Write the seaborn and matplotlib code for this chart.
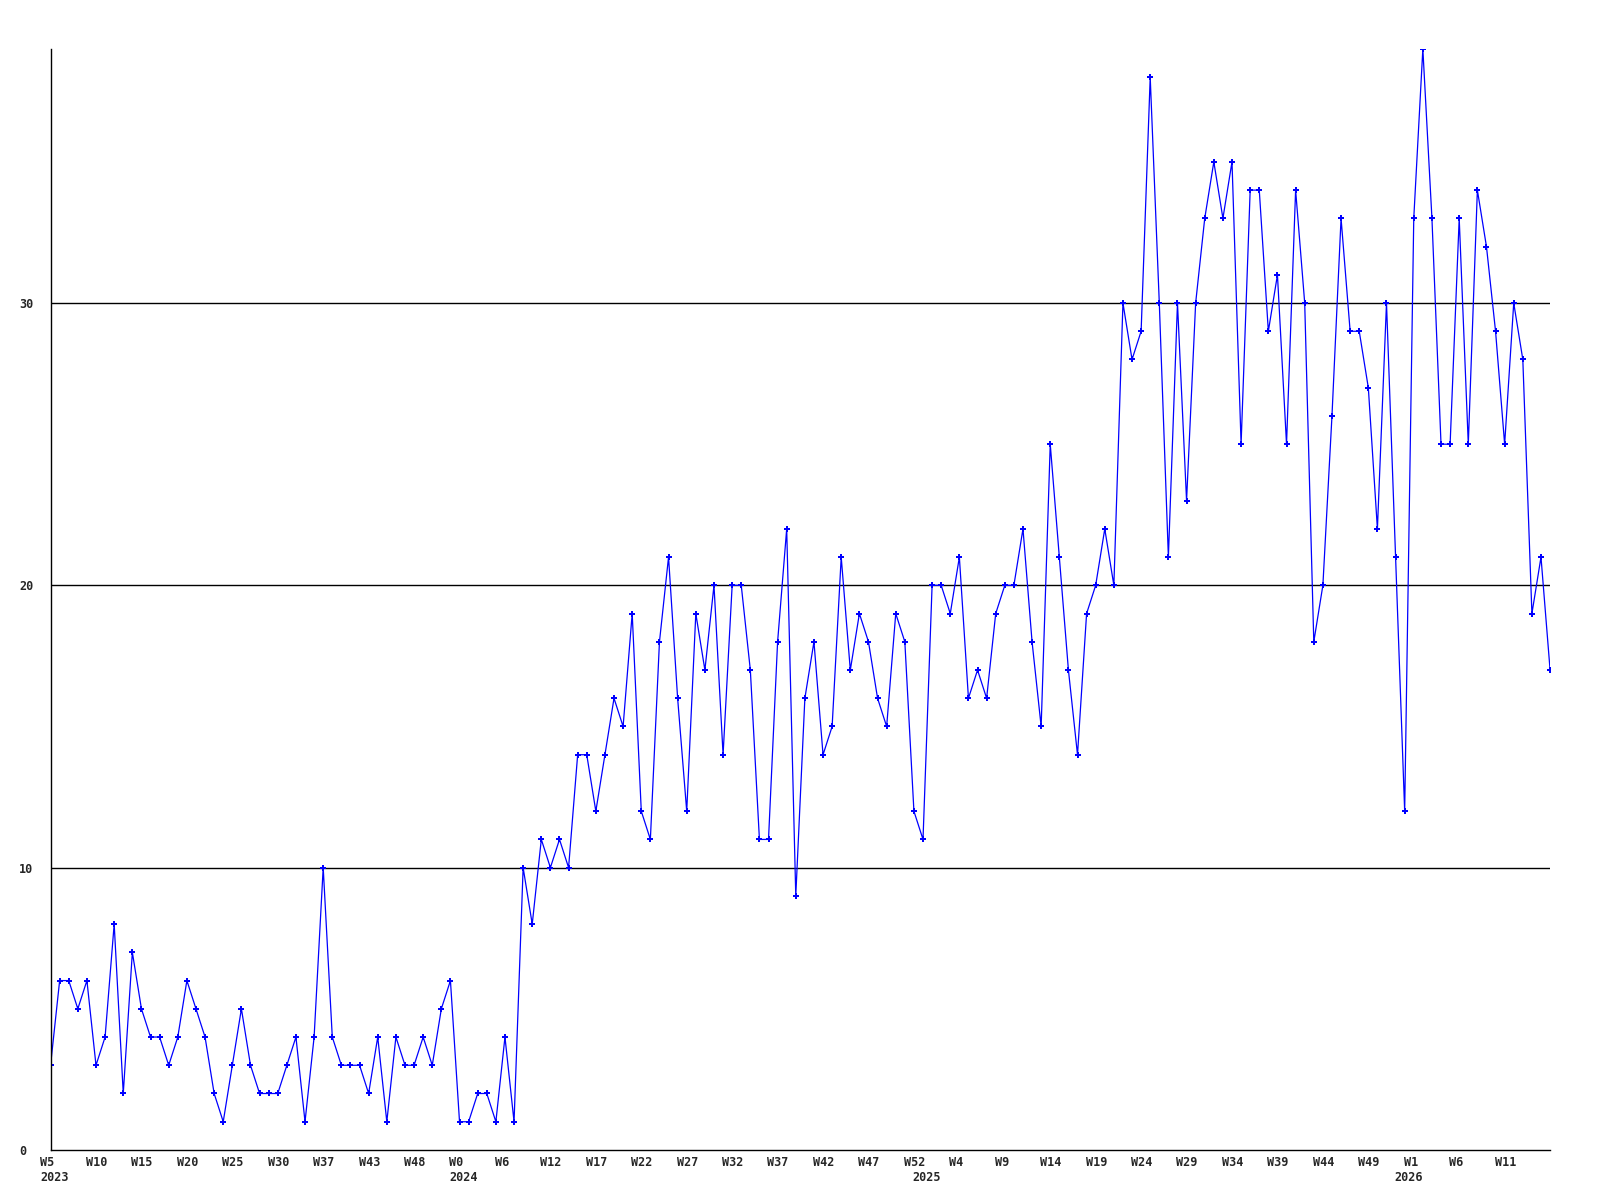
import matplotlib
matplotlib.use('Agg')
import matplotlib.pyplot as plt
import pandas as pd
import numpy as np
import seaborn as sns

# Weekly counts, one value per data point (weeks with no data are skipped)
counts_2023 = [3, 6, 6, 5, 6, 3, 4, 8, 2, 7, 5, 4, 4, 3, 4, 6, 5, 4, 2, 1,
               3, 5, 3, 2, 2, 2, 3, 4, 1, 4, 10, 4, 3, 3, 3, 2, 4, 1, 4, 3,
               3, 4, 3, 5, 6]
counts_2024 = [1, 1, 2, 2, 1, 4, 1, 10, 8, 11, 10, 11, 10,
               14, 14, 12, 14, 16, 15, 19, 12, 11, 18,
               21, 16, 12, 19, 17, 20, 14, 20, 20, 17,
               11, 11, 18, 22, 9, 16, 18, 14, 15, 21,
               17, 19, 18, 16, 15, 19, 18, 12]
counts_2025 = [11, 20, 20, 19, 21, 16, 17, 16, 19, 20, 20, 22,
               18, 15, 25, 21, 17, 14, 19, 20, 22, 20,
               30, 28, 29, 38, 30, 21, 30, 23, 30, 33,
               35, 33, 35, 25, 34, 34, 29, 31, 25, 34,
               30, 18, 20, 26, 33, 29, 29, 27, 22, 30,
               21]
counts_2026 = [12, 33, 39, 33, 25, 25, 33, 25, 34, 32, 29, 25, 30, 28, 19, 21, 17]

week_labels = ['W5', 'W10', 'W15', 'W20', 'W25', 'W30', 'W37', 'W43', 'W48',
               'W0', 'W6', 'W12', 'W17', 'W22', 'W27', 'W32', 'W37', 'W42',
               'W47', 'W52', 'W4', 'W9', 'W14', 'W19', 'W24', 'W29', 'W34',
               'W39', 'W44', 'W49', 'W1', 'W6', 'W11']
years = ['2023', '2024', '2025', '2026']
y_ticks = [0, 10, 20, 30]

per_year = [counts_2023, counts_2024, counts_2025, counts_2026]
counts = sum(per_year, [])
df = pd.DataFrame({'idx': np.arange(len(counts)), 'count': counts})
# first point of each year gets the year label
year_start = np.cumsum([0] + [len(c) for c in per_year[:-1]])

sns.set_style('white')
plt.rcParams['font.family'] = ['DejaVu Sans Mono']

fig = plt.figure(figsize=(16, 12), dpi=100)
ax = fig.add_axes([0.0316, 0.0417, 0.9372, 0.9175])

sns.lineplot(data=df, x='idx', y='count', ax=ax, color='#0000ff', linewidth=0.9,
             marker='P', markersize=4, markeredgewidth=0, markerfacecolor='#0000ff')

ax.set_xlim(0, len(counts) - 1)
ax.set_ylim(0, 39)

# horizontal reference lines
for y in y_ticks[1:]:
    ax.axhline(y, color='black', linewidth=1, zorder=0)

# x labels every 5 points, left aligned a little before the point
tick_pos = list(range(0, len(counts), 5))[:len(week_labels)]
ax.set_xticks(tick_pos)
ax.set_xticklabels([])
for pos, w in zip(tick_pos, week_labels):
    ax.annotate(w, xy=(pos, 0), xycoords=('data', 'axes fraction'),
                xytext=(-7.3, -4.3), textcoords='offset points',
                ha='left', va='top', fontsize=8.5, fontweight='bold')
for pos, yr in zip(year_start, years):
    ax.annotate(yr, xy=(pos, 0), xycoords=('data', 'axes fraction'),
                xytext=(-7.3, -15.2), textcoords='offset points',
                ha='left', va='top', fontsize=8.5, fontweight='bold')

ax.set_yticks(y_ticks)
ax.set_yticklabels([str(v) for v in y_ticks], fontsize=8.5, fontweight='bold', ha='left')
ax.tick_params(axis='both', length=0)
ax.tick_params(axis='y', pad=22.5)

ax.set_xlabel('')
ax.set_ylabel('')
for side in ['top', 'right']:
    ax.spines[side].set_visible(False)
for side in ['left', 'bottom']:
    ax.spines[side].set_color('black')
    ax.spines[side].set_linewidth(1)

fig.savefig('out.png', dpi=100)
